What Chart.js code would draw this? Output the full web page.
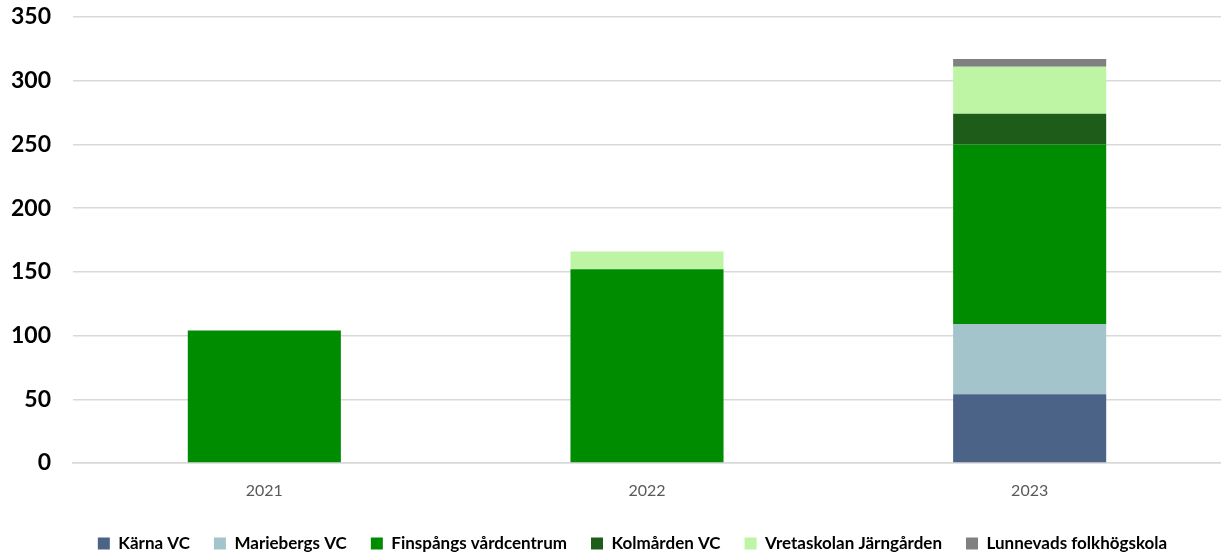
<!DOCTYPE html>
<html lang="sv">
<head>
<meta charset="UTF-8" />
<title>Antal per enhet 2021–2023</title>
<style>
  html, body { margin: 0; padding: 0; background: #fff; overflow: hidden; }
  #wrap { width: 1221px; height: 562px; }
</style>
</head>
<body>
<div id="wrap"><canvas id="chart"></canvas></div>

<script src="https://cdn.jsdelivr.net/npm/chart.js"></script>
<script>
  // värden
  const years = ["2021", "2022", "2023"];
  const karna = [0, 0, 54];
  const mariebergs = [0, 0, 55];
  const finspang = [104, 152, 141];
  const kolmarden = [0, 0, 24];
  const vretaskolan = [0, 14, 37];
  const lunnevad = [0, 0, 6];
  const yTicks = [0, 50, 100, 150, 200, 250, 300, 350];

  const font = "Lato, 'Open Sans', sans-serif";

  const series = [
    { label: "Kärna VC", data: karna, color: "#4b6387" },
    { label: "Mariebergs VC", data: mariebergs, color: "#a2c4ca" },
    { label: "Finspångs vårdcentrum", data: finspang, color: "#008c00" },
    { label: "Kolmården VC", data: kolmarden, color: "#1e5c1a" },
    { label: "Vretaskolan Järngården", data: vretaskolan, color: "#bdf5a5" },
    { label: "Lunnevads folkhögskola", data: lunnevad, color: "#808080" }
  ];

  // flytta förklaringen lite åt höger, som i originalet
  const shiftLegend = {
    id: "shiftLegend",
    afterLayout(chart) {
      chart.legend.left += 22;
      chart.legend.right += 22;
    }
  };

  new Chart(document.getElementById("chart"), {
    type: "bar",
    data: {
      labels: years,
      datasets: series.map(s => ({
        label: s.label,
        data: s.data,
        backgroundColor: s.color,
        borderWidth: 0,
        barPercentage: 1,
        categoryPercentage: 0.4
      }))
    },
    options: {
      responsive: true,
      maintainAspectRatio: false,
      animation: false,
      layout: { padding: 0 },
      scales: {
        x: {
          stacked: true,
          grid: { display: false },
          border: { color: "#d9d9d9", width: 1.5 },
          ticks: { color: "#595959", font: { family: font, size: 16 }, padding: 10 },
          afterFit: scale => { scale.height = 48; }
        },
        y: {
          stacked: true,
          min: 0,
          max: 350,
          afterBuildTicks: axis => { axis.ticks = yTicks.map(v => ({ value: v })); },
          grid: { color: "#d9d9d9", lineWidth: 1.5, drawTicks: false },
          border: { display: false },
          ticks: { color: "#000", font: { family: font, size: 23, weight: "bold" }, padding: 22 },
          afterFit: scale => {
            scale.width = 73;
            scale.paddingTop = 17;
            scale.paddingBottom = 0;
          }
        }
      },
      plugins: {
        legend: {
          position: "bottom",
          labels: {
            boxWidth: 12,
            boxHeight: 12,
            padding: 24,
            color: "#000",
            font: { family: font, size: 17, weight: "bold" }
          }
        },
        tooltip: { enabled: false }
      }
    },
    plugins: [shiftLegend]
  });
</script>
</body>
</html>
